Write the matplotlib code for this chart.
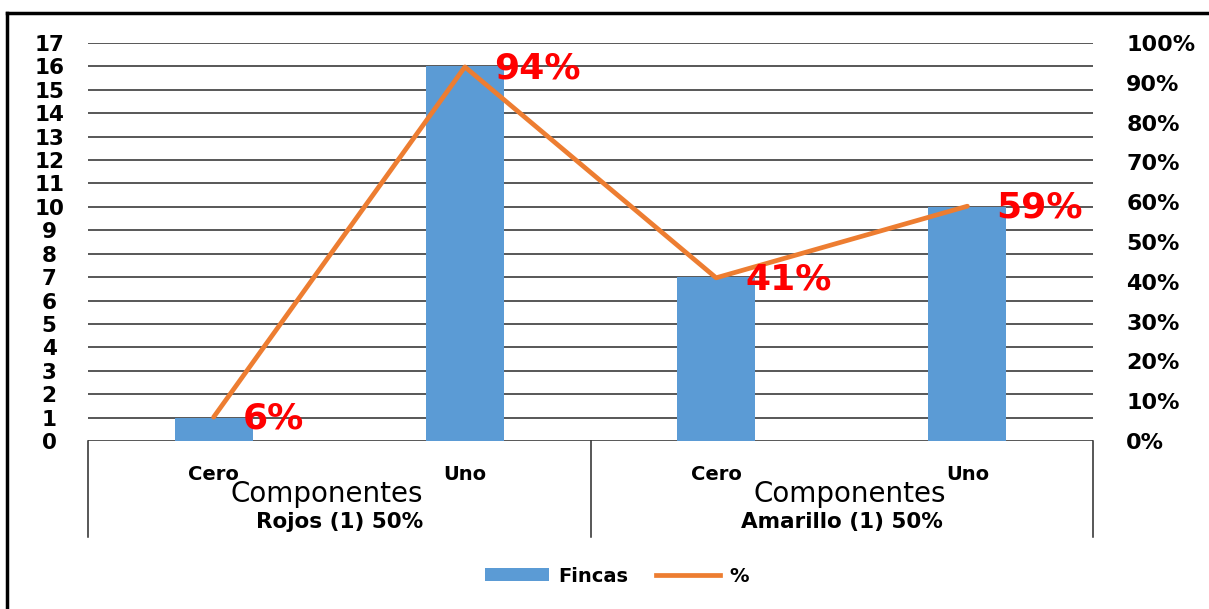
import numpy as np
import matplotlib
matplotlib.use("Agg")
import matplotlib.pyplot as plt
from matplotlib.lines import Line2D
from matplotlib.patches import Patch
import matplotlib.transforms as mtransforms

# data
categories = ["Cero", "Uno", "Cero", "Uno"]
groups = ["Rojos (1) 50%", "Amarillo (1) 50%"]
group_title = "Componentes"
fincas = [1, 16, 7, 10]
pct = [0.06, 0.94, 0.41, 0.59]
pct_labels = ["6%", "94%", "41%", "59%"]

blue = "#5B9BD5"
orange = "#ED7D31"
grid = "#2a2a2a"

fig = plt.figure(figsize=(12.09, 6.09), dpi=100)
ax = fig.add_axes([88 / 1209, 1 - 441 / 609, (1093 - 88) / 1209, (441 - 43) / 609])
ax2 = ax.twinx()

x = np.arange(len(categories))
ax.bar(x, fincas, width=0.31, color=blue, zorder=3)
ax.set_xlim(-0.5, len(categories) - 0.5)
ax.set_ylim(0, 17)
ax.set_yticks(range(0, 18))
ax.set_xticks([])
for v in range(0, 18):
    ax.axhline(v, color=grid, lw=1.1, zorder=1)

ax2.plot(x, pct, color=orange, lw=3.4, zorder=4, solid_capstyle="round")
ax2.set_ylim(0, 1)
ax2.set_yticks(np.arange(0, 1.01, 0.1))
ax2.set_yticklabels([f"{int(round(t * 100))}%" for t in np.arange(0, 1.01, 0.1)])

for a in (ax, ax2):
    for s in a.spines.values():
        s.set_visible(False)
    a.tick_params(length=0)

ax.tick_params(axis="y", pad=28)
for lab in ax.get_yticklabels():
    lab.set_fontsize(15.5)
    lab.set_fontweight("bold")
    lab.set_horizontalalignment("center")
ax2.tick_params(axis="y", pad=24)
for lab in ax2.get_yticklabels():
    lab.set_fontsize(16)
    lab.set_fontweight("bold")

# data labels
for xi, p, lbl in zip(x, pct, pct_labels):
    ax2.annotate(lbl, (xi, p), xytext=(21, -1), textcoords="offset points",
                 ha="left", va="center", color="red", fontsize=26,
                 fontweight="bold", zorder=5)

# category axis (multi-level)
trans = mtransforms.blended_transform_factory(ax.transData, ax.transAxes)
for xi, c in zip(x, categories):
    ax.text(xi, -0.083, c, transform=trans, ha="center", va="center",
            fontsize=14, fontweight="bold")
group_x = [0.45, 2.53]
for gx, g in zip(group_x, groups):
    ax.text(gx, -0.132, group_title, transform=trans, ha="center", va="center",
            fontsize=20)
for gi, g in enumerate(groups):
    ax.text(gi * 2 + 0.5, -0.203, g, transform=trans, ha="center", va="center",
            fontsize=15.5, fontweight="bold")
for sx in (-0.5, 1.5, 3.5):
    ax.plot([sx, sx], [0, -0.241], transform=trans, color=grid, lw=1.1,
            clip_on=False)

# legend
handles = [Patch(facecolor=blue, edgecolor="none"),
           Line2D([], [], color=orange, lw=3.4)]
fig.legend(handles, ["Fincas", "%"], loc="center", bbox_to_anchor=(617 / 1209, 1 - 576 / 609),
           ncol=2, frameon=False, handlelength=3.3, handleheight=0.6,
           handletextpad=0.5, columnspacing=1.4,
           prop={"weight": "bold", "size": 14})

# outer border
fig.add_artist(Line2D([7 / 1209, 7 / 1209], [0, 1 - 13 / 609], color="black", lw=2.5,
                      transform=fig.transFigure))
fig.add_artist(Line2D([7 / 1209, 1], [1 - 13 / 609, 1 - 13 / 609], color="black", lw=2.5,
                      transform=fig.transFigure))

fig.savefig("out.png", dpi=100)
